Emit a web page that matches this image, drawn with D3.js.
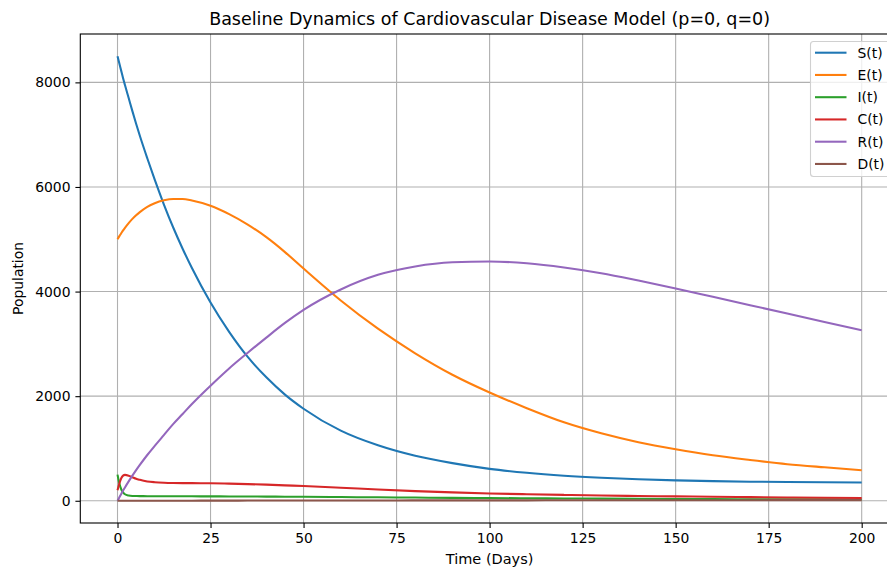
<!DOCTYPE html>
<html>
<head>
<meta charset="utf-8">
<script src="https://cdn.jsdelivr.net/npm/d3@7"></script>
<style>
html,body{margin:0;padding:0;background:#fff;}
svg{display:block;font-family:"DejaVu Sans",sans-serif;}
</style>
</head>
<body>
<svg id="chart" width="887" height="568"></svg>
<script>
const title = "Baseline Dynamics of Cardiovascular Disease Model (p=0, q=0)";
const xLabel = "Time (Days)";
const yLabel = "Population";
const xTicks = [0, 25, 50, 75, 100, 125, 150, 175, 200];
const yTicks = [0, 2000, 4000, 6000, 8000];
const seriesNames = ["S(t)", "E(t)", "I(t)", "C(t)", "R(t)", "D(t)"];
const seriesColors = ["#1f77b4", "#ff7f0e", "#2ca02c", "#d62728", "#9467bd", "#8c564b"];

const time = [0,0.5,1,1.5,2,3,4,5,6,8,10,12.5,15,17.5,20,25,30,35,40,45,50,60,70,80,90,100,110,120,130,140,150,160,170,180,190,200];
const S = [8500,8360,8220,8080,7950,7700,7450,7210,6980,6550,6140,5660,5220,4820,4450,3790,3230,2750,2360,2030,1760,1340,1060,860,720,610,535,480,440,410,390,375,365,358,353,350];
const E = [5000,5060,5115,5170,5220,5310,5390,5460,5520,5620,5690,5745,5770,5770,5740,5640,5480,5280,5040,4755,4440,3830,3290,2820,2410,2070,1770,1500,1290,1120,985,870,780,700,640,585];
const I = [500,330,220,160,125,100,92,90,89,88,87,86,86,85,85,84,83,82,80,78,76,71,66,61,56,52,48,44,41,38,35,32,30,28,26,24];
const C = [200,330,430,480,495,480,450,420,400,370,355,345,340,338,337,335,328,318,308,295,282,250,215,185,160,140,125,112,100,92,84,76,70,64,58,53];
const R = [0,65,130,195,255,370,480,585,685,875,1050,1260,1470,1660,1850,2200,2530,2830,3120,3400,3650,4040,4320,4480,4560,4575,4540,4460,4350,4210,4060,3900,3740,3580,3420,3260];
const D = [0,0,0,0,0,0,1,1,1,1,1,2,2,2,2,3,3,4,4,5,5,6,6,7,7,8,8,9,9,10,10,11,11,12,12,13];
const seriesValues = [S, E, I, C, R, D];

const svg = d3.select("#chart");
const margin = {left: 80.3, right: 898.9, top: 34, bottom: 523};

const x = d3.scaleLinear().domain([-10, 210]).range([margin.left, margin.right]);
const y = d3.scaleLinear().domain([-425, 8925]).range([margin.bottom, margin.top]);

// grid
const grid = svg.append("g");
xTicks.forEach(t => grid.append("line")
  .attr("x1", x(t)).attr("x2", x(t)).attr("y1", margin.top).attr("y2", margin.bottom)
  .attr("stroke", "#b0b0b0").attr("stroke-width", 1.1));
yTicks.forEach(t => grid.append("line")
  .attr("x1", margin.left).attr("x2", margin.right).attr("y1", y(t)).attr("y2", y(t))
  .attr("stroke", "#b0b0b0").attr("stroke-width", 1.1));

// lines
svg.append("clipPath").attr("id", "clip").append("rect")
  .attr("x", margin.left).attr("y", margin.top)
  .attr("width", margin.right - margin.left).attr("height", margin.bottom - margin.top);
const lineGen = vals => d3.line()
  .x((d, i) => x(time[i])).y(d => y(d))
  .curve(d3.curveMonotoneX)(vals);
const lines = svg.append("g").attr("clip-path", "url(#clip)");
seriesValues.forEach((vals, k) => lines.append("path")
  .attr("d", lineGen(vals)).attr("fill", "none")
  .attr("stroke", seriesColors[k]).attr("stroke-width", 2.08)
  .attr("stroke-linejoin", "round").attr("stroke-linecap", "butt"));

// axes
const xAxis = d3.axisBottom(x).tickValues(xTicks).tickSize(4.9).tickPadding(4.9).tickFormat(d3.format("d"));
const yAxis = d3.axisLeft(y).tickValues(yTicks).tickSize(4.9).tickPadding(4.9).tickFormat(d3.format("d"));
const gx = svg.append("g").attr("transform", `translate(0,${margin.bottom})`).call(xAxis);
const gy = svg.append("g").attr("transform", `translate(${margin.left},0)`).call(yAxis);
[gx, gy].forEach(g => {
  g.select(".domain").remove();
  g.selectAll("text").attr("font-size", 13.9).attr("fill", "#000").attr("font-family", "DejaVu Sans");
  g.selectAll("line").attr("stroke", "#000").attr("stroke-width", 1.1);
});
// spines
svg.append("rect").attr("x", margin.left).attr("y", margin.top)
  .attr("width", margin.right - margin.left).attr("height", margin.bottom - margin.top)
  .attr("fill", "none").attr("stroke", "#000").attr("stroke-width", 1.1);

// labels
svg.append("text").attr("x", (margin.left + margin.right) / 2).attr("y", 25)
  .attr("text-anchor", "middle").attr("font-size", 17.5).text(title);
svg.append("text").attr("x", (margin.left + margin.right) / 2).attr("y", 564)
  .attr("text-anchor", "middle").attr("font-size", 14.5).text(xLabel);
svg.append("text").attr("transform", `translate(23,${(margin.top + margin.bottom) / 2}) rotate(-90)`)
  .attr("text-anchor", "middle").attr("font-size", 13.9).text(yLabel);

// legend
const lg = svg.append("g");
lg.append("rect").attr("x", 810.5).attr("y", 41.5).attr("width", 100).attr("height", 135)
  .attr("rx", 3).attr("fill", "#fff").attr("fill-opacity", 0.8)
  .attr("stroke", "#d0d0d0").attr("stroke-width", 1.1);
seriesNames.forEach((n, k) => {
  const yy = 52.7 + k * 22.25;
  lg.append("line").attr("x1", 815).attr("x2", 846.5).attr("y1", yy).attr("y2", yy)
    .attr("stroke", seriesColors[k]).attr("stroke-width", 2.08);
  lg.append("text").attr("x", 857.5).attr("y", yy + 5).attr("font-size", 13.9).text(n);
});
</script>
</body>
</html>
